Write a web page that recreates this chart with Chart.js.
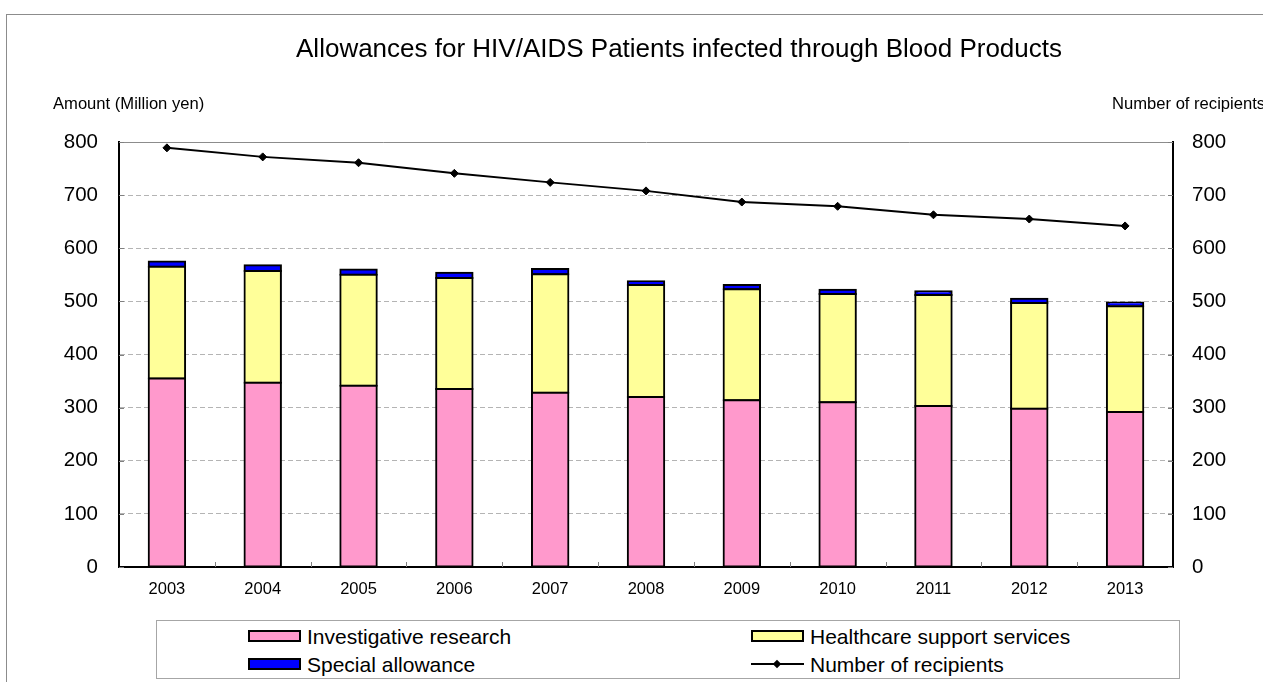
<!DOCTYPE html>
<html>
<head>
<meta charset="utf-8">
<title>Allowances for HIV/AIDS Patients infected through Blood Products</title>
<script src="https://cdn.jsdelivr.net/npm/chart.js@4.4.0/dist/chart.umd.min.js"></script>
<style>
  html, body { margin: 0; padding: 0; background: #fff; overflow: hidden; }
  body { width: 1263px; height: 682px; position: relative; font-family: "Liberation Sans", Arial, sans-serif; }
  #frame { position: absolute; left: 6px; top: 14px; width: 1400px; height: 800px; border: 1px solid #8c8c8c; }
  #chart { position: absolute; left: 0; top: 0; }
  #legend { position: absolute; left: 156px; top: 620px; width: 1022px; height: 57px; border: 1px solid #a6a6a6; background: #fff; }
  .item { position: absolute; font-size: 21px; line-height: 24px; white-space: nowrap; color: #000; }
  .swatch { display: inline-block; width: 49px; height: 8px; border: 2px solid #000; vertical-align: middle; margin-right: 6px; position: relative; top: -2px; }
  .sym { display: inline-block; width: 53px; height: 12px; vertical-align: middle; margin-right: 6px; position: relative; top: -2px; }
  .sym .ln { position: absolute; left: 0; right: 0; top: 5px; border-top: 2px solid #000; }
  .sym .pt { position: absolute; left: 23px; top: 3px; width: 6px; height: 6px; background: #000; transform: rotate(45deg); }
</style>
</head>
<body>
<div id="frame"></div>
<canvas id="chart" width="1263" height="682"></canvas>
<div id="legend"></div>
<script>
const years = ['2003', '2004', '2005', '2006', '2007', '2008', '2009', '2010', '2011', '2012', '2013']
// million yen
const research = [355, 347, 341, 335, 328, 320, 314, 310, 303, 298, 292]
const healthcare = [210, 210, 209, 209, 223, 211, 209, 204, 209, 199, 199]
const special = [10, 11, 10, 10, 10, 7, 8, 8, 7, 8, 7]
// persons
const recipients = [789, 772, 761, 741, 724, 708, 687, 679, 663, 655, 642]

const titleText = 'Allowances for HIV/AIDS Patients infected through Blood Products'
const leftCaption = 'Amount (Million yen)'
const rightCaption = 'Number of recipients'

const FONT = '"Liberation Sans", Arial, sans-serif'

// title, axis captions and the small inside tick marks
const captions = {
  id: 'captions',
  afterDraw (chart) {
    const { ctx, chartArea, scales } = chart
    ctx.save()
    ctx.fillStyle = '#000'
    ctx.textBaseline = 'middle'
    ctx.font = '26px ' + FONT
    ctx.textAlign = 'center'
    ctx.fillText(titleText, 679, 50)
    ctx.font = '16.6px ' + FONT
    ctx.textAlign = 'left'
    ctx.fillText(leftCaption, 53, 104)
    ctx.fillText(rightCaption, 1112, 104)

    ctx.strokeStyle = '#808080'
    ctx.lineWidth = 1
    ctx.beginPath()
    for (let i = 1; i < years.length; i++) {
      const x = Math.round((scales.x.getPixelForValue(i - 1) + scales.x.getPixelForValue(i)) / 2) + 0.5
      ctx.moveTo(x, chartArea.bottom)
      ctx.lineTo(x, chartArea.bottom - 5)
    }
    scales.y.ticks.forEach(t => {
      const y = Math.round(scales.y.getPixelForValue(t.value)) + 0.5
      ctx.moveTo(chartArea.left, y)
      ctx.lineTo(chartArea.left + 5, y)
      ctx.moveTo(chartArea.right - 5, y)
      ctx.lineTo(chartArea.right, y)
    })
    ctx.stroke()
    ctx.restore()
  }
}

const tickFont = { family: FONT, size: 20.5 }
// outline centred on each segment edge, so stacked segments share one line
const barStyle = { borderColor: '#000', borderWidth: 2, borderSkipped: false, inflateAmount: 1, stack: 'amount', order: 1 }

const chart = new Chart(document.getElementById('chart'), {
  type: 'bar',
  data: {
    labels: years,
    datasets: [
      { ...barStyle, label: 'Investigative research', data: research, backgroundColor: '#FF99CC' },
      { ...barStyle, label: 'Healthcare support services', data: healthcare, backgroundColor: '#FFFF99' },
      { ...barStyle, label: 'Special allowance', data: special, backgroundColor: '#0000FF' },
      {
        type: 'line', label: 'Number of recipients', data: recipients, yAxisID: 'y1', order: 0,
        borderColor: '#000', borderWidth: 2, tension: 0, fill: false,
        pointStyle: 'rectRot', pointRadius: 4, pointBackgroundColor: '#000', pointBorderColor: '#000', pointBorderWidth: 1
      }
    ]
  },
  options: {
    responsive: false,
    animation: false,
    devicePixelRatio: 1,
    layout: { padding: { left: 0, right: 0, top: 142, bottom: 0 } },
    datasets: { bar: { barPercentage: 0.38, categoryPercentage: 1 } },
    plugins: { legend: { display: false }, tooltip: { enabled: false } },
    scales: {
      x: {
        stacked: true,
        grid: { display: false },
        border: { display: true, color: '#000', width: 2 },
        ticks: { font: { family: FONT, size: 16.5 }, color: '#000', padding: 5 },
        afterFit: s => { s.height = 115 }
      },
      y: {
        position: 'left',
        stacked: true,
        min: 0,
        max: 800,
        ticks: { stepSize: 100, font: tickFont, color: '#000', padding: 21 },
        grid: {
          drawTicks: false,
          color: c => (c.tick && c.tick.value === 800) ? '#8c8c8c' : '#b4b4b4',
          lineWidth: 1
        },
        border: {
          color: '#000',
          width: 2,
          dash: c => (c.tick && c.tick.value === 800) ? [] : [5, 3]
        },
        afterFit: s => { s.width = 119 }
      },
      y1: {
        position: 'right',
        min: 0,
        max: 800,
        ticks: { stepSize: 100, font: tickFont, color: '#000', padding: 19 },
        grid: { drawOnChartArea: false, drawTicks: false },
        border: { color: '#000', width: 2 },
        afterFit: s => { s.width = 90 }
      }
    }
  },
  plugins: [captions]
})

// two-column legend built from the datasets
const slots = [[91, 4], [594, 4], [91, 32], [594, 32]]
const $legend = document.getElementById('legend')
chart.data.datasets.forEach((ds, i) => {
  const item = document.createElement('div')
  item.className = 'item'
  item.style.left = slots[i][0] + 'px'
  item.style.top = slots[i][1] + 'px'
  let mark
  if (ds.type === 'line') {
    mark = '<span class="sym"><span class="ln"></span><span class="pt"></span></span>'
  } else {
    mark = '<span class="swatch" style="background:' + ds.backgroundColor + '"></span>'
  }
  item.innerHTML = mark + ds.label
  $legend.appendChild(item)
})
</script>
</body>
</html>
